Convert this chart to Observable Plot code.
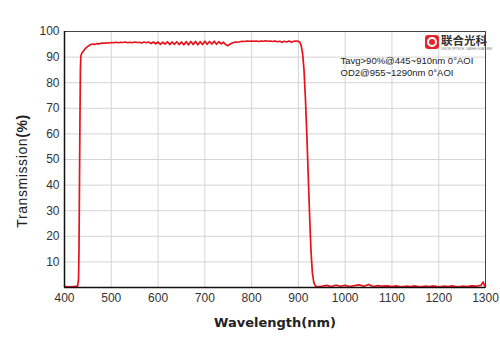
<!DOCTYPE html>
<html>
<head>
<meta charset="utf-8">
<script src="https://cdn.jsdelivr.net/npm/d3@7"></script>
<script src="https://cdn.jsdelivr.net/npm/@observablehq/plot@0.6"></script>
<style>
  html, body { margin: 0; padding: 0; background: #fff; }
  #chart { position: relative; width: 500px; height: 353px; }
</style>
</head>
<body>
<div id="chart"></div>
<script>
const wavelength = [
  400, 410, 420, 428, 430, 431, 432, 433, 434, 435, 437, 440, 443, 446, 450, 455,
  460, 465, 470, 475, 480, 485, 490, 495, 500, 505, 510, 515, 520, 525, 530, 535,
  540, 545, 550, 555, 560, 565, 570, 575, 580, 585, 590, 595, 600, 605, 610, 615,
  620, 625, 630, 635, 640, 645, 650, 655, 660, 665, 670, 675, 680, 685, 690, 695,
  700, 705, 710, 715, 720, 725, 730, 735, 740, 745, 750, 755, 760, 765, 770, 775,
  780, 785, 790, 795, 800, 805, 810, 815, 820, 825, 830, 835, 840, 845, 850, 855,
  860, 865, 870, 875, 880, 885, 890, 895, 900, 903, 906, 909, 912, 915, 918, 921,
  924, 927, 930, 933, 936, 940, 950, 960, 970, 980, 990, 1000, 1010, 1020, 1030, 1040,
  1050, 1060, 1070, 1080, 1090, 1100, 1110, 1120, 1130, 1140, 1150, 1160, 1170, 1180, 1190, 1200,
  1210, 1220, 1230, 1240, 1250, 1260, 1270, 1280, 1290, 1295, 1298, 1300
];
const transmission = [
  0.4, 0.3, 0.4, 0.5, 3, 15, 40, 65, 85, 90.5, 91.5, 92.3, 93, 93.6, 94.2, 94.8,
  95.1, 95.0, 95.3, 95.2, 95.5, 95.4, 95.6, 95.5, 95.7, 95.6, 95.8, 95.6, 95.8, 95.7, 95.9, 95.6,
  95.8, 95.6, 95.9, 95.7, 95.8, 95.5, 95.9, 95.6, 95.9, 95.3, 95.9, 95.2, 95.9, 95.0, 95.8, 95.1,
  96.0, 94.9, 95.9, 95.0, 96.0, 94.9, 95.9, 94.8, 96.0, 94.8, 96.1, 94.9, 96.1, 94.8, 96.0, 94.9,
  96.2, 95.0, 96.1, 95.1, 96.2, 95.0, 96.0, 95.2, 95.8, 94.8, 94.5, 95.2, 95.6, 95.9, 95.8, 96.0,
  96.2, 96.1, 96.3, 96.2, 96.3, 96.2, 96.3, 96.1, 96.3, 96.2, 96.4, 96.2, 96.3, 96.1, 96.3, 96.0,
  96.2, 95.8, 96.2, 95.9, 96.3, 95.8, 96.2, 96.3, 96.2, 95.8, 94.5, 91.5, 85, 74, 60, 44,
  28, 14, 5.5, 2, 0.7, 0.3, 0.5, 0.8, 0.4, 0.9, 0.5, 0.8, 0.4, 0.7, 1.0, 0.5,
  1.2, 0.4, 0.7, 0.5, 0.6, 0.4, 0.6, 0.3, 0.5, 0.4, 0.6, 0.3, 0.5, 0.4, 0.6, 0.3,
  0.5, 0.4, 0.6, 0.3, 0.5, 0.4, 0.6, 0.5, 0.8, 2.2, 0.6, 0.5
];
const xTicks = [400, 500, 600, 700, 800, 900, 1000, 1100, 1200, 1300];
const yTicks = [10, 20, 30, 40, 50, 60, 70, 80, 90, 100];
const xLabel = "Wavelength(nm)";
const yLabelMain = "Transmission";
const yLabelUnit = "(%)";
const notes = ["Tavg>90%@445~910nm 0°AOI", "OD2@955~1290nm 0°AOI"];
const logoText = "联合光科";

const data = wavelength.map((w, i) => ({w, t: transmission[i]}));

const plot = Plot.plot({
  width: 500,
  height: 353,
  marginLeft: 64,
  marginRight: 15,
  marginTop: 31,
  marginBottom: 66,
  style: {fontFamily: "'Liberation Sans', Arial, sans-serif", fontSize: "12px", color: "#333", background: "#fff"},
  x: {domain: [400, 1300], ticks: xTicks, label: null, tickSize: 0, tickPadding: 6},
  y: {domain: [0, 100], ticks: yTicks, label: null, tickSize: 0, tickPadding: 5},
  marks: [
    Plot.gridX(xTicks, {stroke: "#d4d4d4", strokeOpacity: 1, strokeWidth: 1}),
    Plot.gridY(yTicks, {stroke: "#d4d4d4", strokeOpacity: 1, strokeWidth: 1}),
    Plot.line(data, {x: "w", y: "t", stroke: "#e8121b", strokeWidth: 1.7}),
    Plot.frame({stroke: "#444", strokeWidth: 1}),
    Plot.ruleX([400], {stroke: "#111", strokeWidth: 1.5}),
    Plot.ruleY([0], {stroke: "#111", strokeWidth: 1.5}),
    Plot.axisX(xTicks, {tickSize: 0, tickPadding: 6, fill: "#333", fontSize: 12, tickFormat: d => String(d)}),
    Plot.axisY(yTicks, {tickSize: 0, tickPadding: 5, fill: "#333", fontSize: 12, tickFormat: d => String(d)}),
    Plot.text(notes, {
      x: 990, y: (d, i) => 88.5 - i * 4.6, text: d => d, textAnchor: "start",
      fontSize: 9.5, fill: "#222"
    })
  ]
});
document.getElementById("chart").appendChild(plot);

const svg = d3.select(plot);
// X axis label
svg.append("text")
  .attr("x", 275).attr("y", 327)
  .attr("text-anchor", "middle")
  .attr("font-family", "'DejaVu Sans', Verdana, sans-serif")
  .attr("font-weight", "bold")
  .attr("font-size", 13)
  .attr("fill", "#222")
  .text(xLabel);
// Y axis label
const yl = svg.append("text")
  .attr("transform", "translate(27,171) rotate(-90)")
  .attr("text-anchor", "middle")
  .attr("font-family", "'Liberation Sans', Arial, sans-serif")
  .attr("font-size", 14)
  .attr("letter-spacing", 0.6)
  .attr("fill", "#222");
yl.append("tspan").text(yLabelMain);
yl.append("tspan").attr("font-weight", "bold").text(yLabelUnit);

// Logo
const logo = svg.append("g").attr("transform", "translate(425,35)").attr("text-anchor", "start");
logo.append("rect").attr("width", 14).attr("height", 14).attr("rx", 3).attr("fill", "#e3242b");
logo.append("circle").attr("cx", 7).attr("cy", 7).attr("r", 4).attr("fill", "none").attr("stroke", "#fff").attr("stroke-width", 2);
logo.append("text").attr("x", 16).attr("y", 10)
  .attr("font-family", "'Noto Sans CJK SC', sans-serif")
  .attr("font-weight", "bold").attr("font-size", 11.5).attr("fill", "#333")
  .text(logoText);
logo.append("text").attr("x", 16).attr("y", 14.5)
  .attr("font-family", "'Liberation Sans', Arial, sans-serif")
  .attr("font-size", 3).attr("fill", "#777")
  .text("UNION OPTECH  LIANHE GUANGKE");
</script>
</body>
</html>
